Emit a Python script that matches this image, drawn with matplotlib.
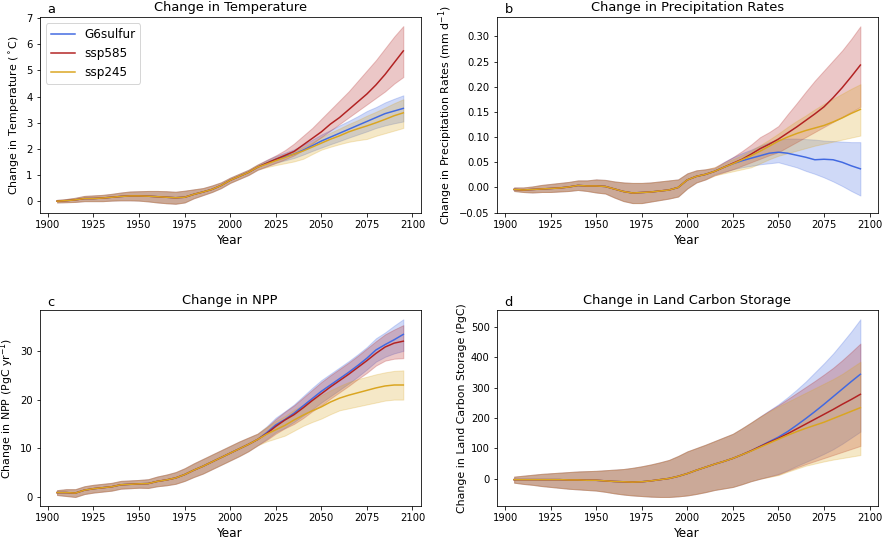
import matplotlib
matplotlib.use('Agg')
import matplotlib.pyplot as plt
import numpy as np

#%% data (5-yr steps)
years_hist = list(range(1905, 2016, 5))
years_scen = list(range(2015, 2096, 5))
scenarios = ['G6sulfur', 'ssp585', 'ssp245']
colors = {'G6sulfur': '#4169e1', 'ssp585': '#b22222', 'ssp245': '#daa520'}

# temperature
tas_hist = [0.0, 0.02, 0.05, 0.1, 0.1, 0.12, 0.15, 0.18, 0.2, 0.2, 0.19, 0.17, 0.15, 0.13, 0.15, 0.26, 0.35, 0.45, 0.6, 0.8, 0.95, 1.1, 1.3]
tas_hist_lo = [-0.05, -0.04, -0.03, 0.0, 0.0, 0.0, 0.02, 0.03, 0.03, 0.02, -0.01, -0.05, -0.08, -0.1, -0.05, 0.11, 0.23, 0.35, 0.5, 0.7, 0.85, 1.0, 1.18]
tas_hist_hi = [0.05, 0.08, 0.13, 0.2, 0.22, 0.24, 0.28, 0.33, 0.37, 0.38, 0.39, 0.39, 0.38, 0.36, 0.4, 0.45, 0.5, 0.6, 0.72, 0.9, 1.05, 1.2, 1.42]
tas_g6 = [1.3, 1.45, 1.6, 1.7, 1.8, 1.95, 2.12, 2.3, 2.45, 2.6, 2.75, 2.9, 3.05, 3.2, 3.35, 3.45, 3.55]
tas_g6_lo = [1.2, 1.33, 1.47, 1.56, 1.65, 1.78, 1.92, 2.05, 2.18, 2.3, 2.43, 2.55, 2.67, 2.8, 2.9, 2.98, 3.05]
tas_g6_hi = [1.4, 1.57, 1.73, 1.85, 1.98, 2.15, 2.35, 2.55, 2.72, 2.9, 3.07, 3.25, 3.45, 3.6, 3.78, 3.92, 4.05]
tas_585 = [1.3, 1.45, 1.6, 1.75, 1.9, 2.15, 2.4, 2.65, 2.95, 3.2, 3.5, 3.8, 4.1, 4.45, 4.85, 5.3, 5.75]
tas_585_lo = [1.2, 1.33, 1.46, 1.6, 1.75, 1.95, 2.2, 2.45, 2.7, 2.95, 3.2, 3.45, 3.7, 3.95, 4.2, 4.5, 4.75]
tas_585_hi = [1.4, 1.58, 1.75, 1.95, 2.2, 2.5, 2.8, 3.15, 3.5, 3.85, 4.2, 4.6, 5.0, 5.4, 5.85, 6.3, 6.7]
tas_245 = [1.3, 1.42, 1.55, 1.67, 1.8, 1.92, 2.07, 2.22, 2.37, 2.5, 2.65, 2.77, 2.88, 3.0, 3.13, 3.27, 3.38]
tas_245_lo = [1.2, 1.3, 1.38, 1.45, 1.52, 1.62, 1.8, 1.97, 2.08, 2.18, 2.27, 2.33, 2.38, 2.5, 2.6, 2.7, 2.8]
tas_245_hi = [1.4, 1.53, 1.67, 1.8, 1.93, 2.07, 2.25, 2.45, 2.62, 2.78, 2.95, 3.1, 3.27, 3.42, 3.58, 3.75, 3.9]

# precipitation
pr_hist = [-0.004, -0.005, -0.004, -0.003, -0.002, -0.001, 0.001, 0.004, 0.003, 0.003, 0.002, -0.003, -0.008, -0.011, -0.01, -0.009, -0.007, -0.005, 0.0, 0.015, 0.022, 0.026, 0.032]
pr_hist_lo = [-0.007, -0.009, -0.01, -0.009, -0.009, -0.008, -0.007, -0.005, -0.007, -0.01, -0.012, -0.02, -0.027, -0.031, -0.031, -0.028, -0.025, -0.022, -0.018, -0.002, 0.01, 0.016, 0.024]
pr_hist_hi = [0.0, 0.0, 0.002, 0.005, 0.007, 0.009, 0.011, 0.014, 0.014, 0.016, 0.015, 0.012, 0.01, 0.009, 0.009, 0.01, 0.012, 0.014, 0.016, 0.028, 0.034, 0.036, 0.04]
pr_g6 = [0.032, 0.04, 0.047, 0.053, 0.058, 0.063, 0.068, 0.07, 0.068, 0.064, 0.06, 0.055, 0.056, 0.055, 0.05, 0.043, 0.037]
pr_g6_lo = [0.026, 0.031, 0.036, 0.04, 0.043, 0.046, 0.048, 0.05, 0.045, 0.04, 0.033, 0.027, 0.02, 0.012, 0.003, -0.007, -0.016]
pr_g6_hi = [0.038, 0.05, 0.06, 0.068, 0.075, 0.083, 0.09, 0.095, 0.097, 0.097, 0.096, 0.095, 0.093, 0.092, 0.091, 0.09, 0.09]
pr_585 = [0.032, 0.04, 0.048, 0.056, 0.066, 0.077, 0.086, 0.096, 0.108, 0.12, 0.133, 0.146, 0.16, 0.178, 0.198, 0.22, 0.243]
pr_585_lo = [0.024, 0.03, 0.036, 0.043, 0.05, 0.057, 0.064, 0.07, 0.08, 0.09, 0.1, 0.11, 0.12, 0.13, 0.14, 0.15, 0.16]
pr_585_hi = [0.04, 0.05, 0.06, 0.072, 0.085, 0.1, 0.11, 0.122, 0.145, 0.167, 0.19, 0.212, 0.232, 0.252, 0.272, 0.295, 0.32]
pr_245 = [0.032, 0.04, 0.047, 0.055, 0.063, 0.072, 0.082, 0.092, 0.1, 0.107, 0.113, 0.118, 0.123, 0.13, 0.138, 0.147, 0.155]
pr_245_lo = [0.024, 0.028, 0.032, 0.036, 0.04, 0.048, 0.056, 0.063, 0.068, 0.073, 0.078, 0.083, 0.087, 0.091, 0.095, 0.099, 0.103]
pr_245_hi = [0.04, 0.048, 0.056, 0.064, 0.073, 0.084, 0.095, 0.107, 0.12, 0.132, 0.143, 0.155, 0.166, 0.176, 0.186, 0.196, 0.205]

# NPP
npp_hist = [0.9, 0.9, 0.8, 1.4, 1.7, 1.9, 2.1, 2.5, 2.6, 2.7, 2.75, 3.2, 3.5, 3.9, 4.6, 5.5, 6.3, 7.2, 8.1, 9.0, 9.9, 10.8, 11.8]
npp_hist_lo = [0.4, 0.2, 0.0, 0.6, 0.9, 1.1, 1.3, 1.7, 1.8, 1.9, 1.85, 2.2, 2.4, 2.7, 3.3, 4.1, 4.8, 5.7, 6.6, 7.5, 8.4, 9.4, 10.6]
npp_hist_hi = [1.4, 1.6, 1.6, 2.2, 2.5, 2.7, 2.9, 3.3, 3.4, 3.5, 3.65, 4.2, 4.6, 5.1, 5.9, 6.9, 7.8, 8.7, 9.6, 10.5, 11.4, 12.2, 13.0]
npp_g6 = [11.8, 13.2, 14.8, 15.9, 17.2, 18.7, 20.2, 21.7, 23.0, 24.3, 25.6, 27.0, 28.5, 30.2, 31.3, 32.3, 33.4]
npp_g6_lo = [10.6, 11.9, 13.3, 14.2, 15.4, 16.7, 18.0, 19.4, 20.7, 22.0, 23.3, 24.7, 26.2, 27.8, 28.8, 29.5, 30.0]
npp_g6_hi = [13.0, 14.5, 16.3, 17.6, 19.0, 20.7, 22.4, 24.0, 25.3, 26.6, 27.9, 29.3, 30.8, 32.6, 33.8, 35.2, 36.5]
npp_585 = [11.8, 13.0, 14.5, 15.8, 16.9, 18.3, 19.8, 21.2, 22.6, 23.9, 25.2, 26.6, 28.0, 29.5, 30.8, 31.6, 32.0]
npp_585_lo = [10.6, 11.7, 13.0, 14.1, 15.0, 16.2, 17.6, 18.8, 20.2, 21.5, 22.8, 24.2, 25.5, 27.0, 28.0, 28.4, 28.5]
npp_585_hi = [13.0, 14.3, 16.0, 17.5, 18.8, 20.4, 22.0, 23.6, 25.0, 26.3, 27.6, 29.0, 30.5, 32.0, 33.4, 34.4, 35.3]
npp_245 = [11.8, 12.9, 13.8, 14.7, 15.8, 16.8, 17.7, 18.5, 19.5, 20.3, 20.9, 21.4, 21.9, 22.4, 22.8, 23.0, 23.0]
npp_245_lo = [10.6, 11.4, 12.0, 12.6, 13.6, 14.6, 15.4, 16.1, 17.0, 17.8, 18.2, 18.6, 19.0, 19.4, 19.8, 20.0, 20.0]
npp_245_hi = [13.0, 14.4, 15.6, 16.6, 17.9, 18.9, 19.9, 20.9, 21.9, 22.8, 23.6, 24.2, 24.7, 25.2, 25.6, 25.9, 26.0]

# land carbon
cl_hist = [-3, -3, -3, -3, -3, -3, -4, -4, -5, -5, -7, -9, -10, -11, -10, -7, -3, 1, 8, 17, 28, 38, 48]
cl_hist_lo = [-13, -17, -20, -24, -27, -30, -33, -35, -37, -39, -43, -48, -52, -55, -57, -59, -60, -60, -58, -55, -50, -44, -37]
cl_hist_hi = [7, 10, 13, 16, 18, 20, 22, 24, 25, 26, 28, 30, 32, 36, 41, 47, 54, 62, 75, 90, 101, 112, 124]
cl_g6 = [48, 57, 67, 79, 92, 107, 122, 137, 155, 176, 198, 221, 245, 270, 295, 320, 344]
cl_g6_lo = [-37, -32, -27, -18, -8, 0, 8, 16, 28, 42, 55, 68, 82, 97, 115, 135, 155]
cl_g6_hi = [124, 136, 148, 166, 185, 205, 225, 245, 268, 293, 320, 350, 380, 412, 448, 485, 525]
cl_585 = [48, 57, 67, 79, 92, 106, 120, 133, 148, 164, 180, 196, 212, 228, 245, 261, 278]
cl_585_lo = [-37, -32, -27, -18, -8, 0, 7, 14, 26, 37, 48, 58, 68, 78, 88, 98, 108]
cl_585_hi = [124, 136, 148, 166, 185, 205, 224, 242, 262, 282, 302, 322, 343, 365, 390, 417, 445]
cl_245 = [48, 57, 67, 79, 91, 104, 117, 130, 143, 155, 166, 176, 186, 198, 210, 222, 234]
cl_245_lo = [-37, -32, -27, -18, -8, 0, 6, 12, 23, 33, 43, 50, 57, 63, 68, 73, 78]
cl_245_hi = [124, 136, 148, 166, 185, 204, 222, 238, 253, 268, 283, 298, 313, 328, 345, 365, 385]

panels = [
    ('a', 'Change in Temperature', r'Change in Temperature ($^\circ$C)',
     (tas_hist, tas_hist_lo, tas_hist_hi),
     {'G6sulfur': (tas_g6, tas_g6_lo, tas_g6_hi), 'ssp585': (tas_585, tas_585_lo, tas_585_hi), 'ssp245': (tas_245, tas_245_lo, tas_245_hi)}),
    ('b', 'Change in Precipitation Rates', r'Change in Precipitation Rates (mm d$^{-1}$)',
     (pr_hist, pr_hist_lo, pr_hist_hi),
     {'G6sulfur': (pr_g6, pr_g6_lo, pr_g6_hi), 'ssp585': (pr_585, pr_585_lo, pr_585_hi), 'ssp245': (pr_245, pr_245_lo, pr_245_hi)}),
    ('c', 'Change in NPP', r'Change in NPP (PgC yr$^{-1}$)',
     (npp_hist, npp_hist_lo, npp_hist_hi),
     {'G6sulfur': (npp_g6, npp_g6_lo, npp_g6_hi), 'ssp585': (npp_585, npp_585_lo, npp_585_hi), 'ssp245': (npp_245, npp_245_lo, npp_245_hi)}),
    ('d', 'Change in Land Carbon Storage', 'Change in Land Carbon Storage (PgC)',
     (cl_hist, cl_hist_lo, cl_hist_hi),
     {'G6sulfur': (cl_g6, cl_g6_lo, cl_g6_hi), 'ssp585': (cl_585, cl_585_lo, cl_585_hi), 'ssp245': (cl_245, cl_245_lo, cl_245_hi)}),
]

#%% plot
fig, axs = plt.subplots(2, 2, figsize=(883/72, 537/72), dpi=72)
plt.subplots_adjust(left=0.045, right=0.994, top=0.968, bottom=0.058, wspace=0.2, hspace=0.5)
yrs = years_hist[:-1] + years_scen

for ax, (lab, title, ylab, hist, scen) in zip(axs.flat, panels):
    for s in scenarios:
        m = np.array(hist[0][:-1] + scen[s][0])
        lo = np.array(hist[1][:-1] + scen[s][1])
        hi = np.array(hist[2][:-1] + scen[s][2])
        ax.plot(yrs, m, color=colors[s], lw=1.5, label=s)
        ax.fill_between(yrs, lo, hi, color=colors[s], alpha=0.25)
    ax.set_title(title, fontsize=13)
    ax.text(0.02, 1.005, lab, transform=ax.transAxes, fontsize=13, va='bottom')
    ax.set_xlabel('Year', fontsize=12)
    ax.set_ylabel(ylab, fontsize=11)
    ax.tick_params(labelsize=10)
    ax.set_xticks([1900, 1925, 1950, 1975, 2000, 2025, 2050, 2075, 2100])

axs[0, 1].set_ylim(-0.05, 0.338)
axs[1, 0].set_yticks([0, 10, 20, 30])
axs[0, 0].legend(loc='upper left', fontsize=12)

plt.savefig('out.png', dpi=72)
